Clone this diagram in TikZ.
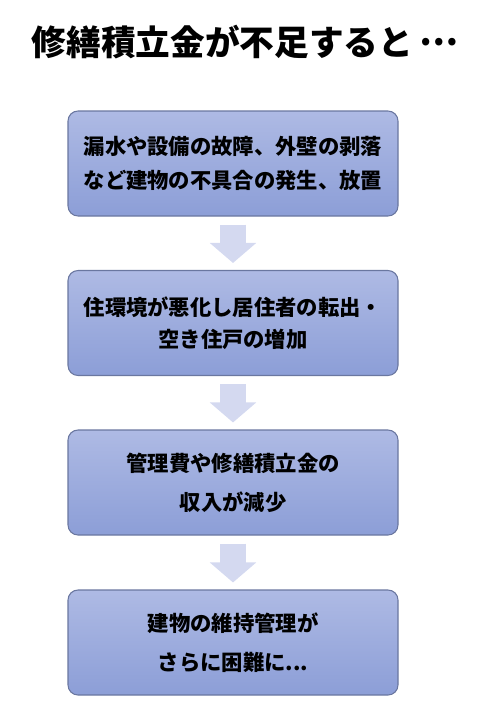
\documentclass[tikz,border=0pt]{standalone}
\usepackage{fontspec}
\setmainfont{Noto Sans CJK JP}
\usepackage{tikz}
\usetikzlibrary{arrows.meta,calc}
\definecolor{boxtop}{HTML}{AEBAE4}
\definecolor{boxbot}{HTML}{8C9ED7}
\definecolor{boxline}{HTML}{6A77A0}
\definecolor{arrowfill}{HTML}{D4D9F0}

\begin{document}
\begin{tikzpicture}[x=0.75pt,y=-0.75pt]
	\tikzstyle{stepbox}=[rectangle,rounded corners=7.5pt,draw=boxline,line width=0.8pt,top color=boxtop,bottom color=boxbot,minimum width=247.5pt,minimum height=78.75pt,align=center,font=\fontsize{16}{26}\selectfont\bfseries]
	\tikzstyle{down}=[draw=arrowfill,line width=19.5pt,-{Triangle[width=34pt,length=15pt]}]
	\useasboundingbox (0,0) rectangle (487,718);
	\node (title) at (245,42) {\fontsize{26}{30}\selectfont\bfseries 修繕積立金が不足すると\,\raisebox{0.3em}{…}};
	\node[stepbox] (1) at (233,163.5) {漏水や設備の故障、外壁の剥落\\など建物の不具合の発生、放置};
	\node[stepbox] (2) at (233,323) {住環境が悪化し居住者の転出・\\[-2pt]空き住戸の増加};
	\node[stepbox] (3) at (233,482.5) {管理費や修繕積立金の\\[3pt]収入が減少};
	\node[stepbox] (4) at (233,642.5) {建物の維持管理が\\[3pt]さらに困難に...};
	\draw[down] ($(1.south)+(0,8)$) -- ($(2.north)+(0,-7)$);
	\draw[down] ($(2.south)+(0,8)$) -- ($(3.north)+(0,-7)$);
	\draw[down] ($(3.south)+(0,8)$) -- ($(4.north)+(0,-7)$);
\end{tikzpicture}
\end{document}
